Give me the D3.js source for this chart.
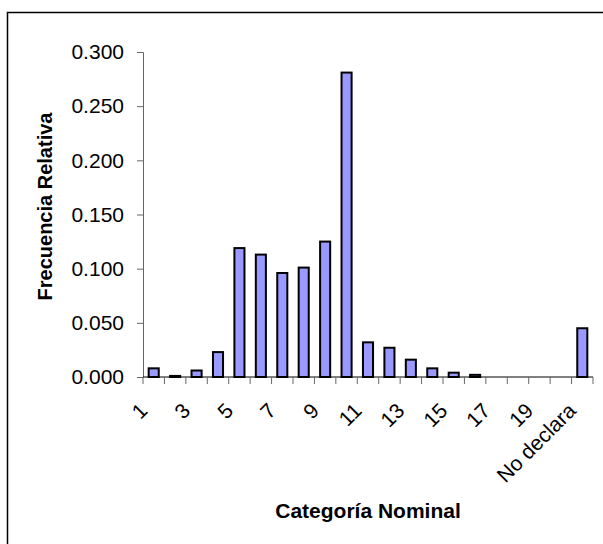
<!DOCTYPE html>
<html><head><meta charset="utf-8">
<script src="https://cdn.jsdelivr.net/npm/d3@7"></script>
<style>body{margin:0;background:#fff;overflow:hidden} text{font-family:"Liberation Sans",Arial,sans-serif;fill:#000}</style>
</head><body><svg id="c" width="603" height="544"></svg>
<script>
const categories = ["1","2","3","4","5","6","7","8","9","10","11","12","13","14","15","16","17","18","19","20","No declara"];
const values = [0.008,0.001,0.006,0.023,0.119,0.113,0.096,0.101,0.125,0.281,0.032,0.027,0.016,0.008,0.004,0.002,0,0,0,0,0.045];
const yTicks = [0,0.05,0.1,0.15,0.2,0.25,0.3];
const xLabelCats = categories.filter((d,i)=>i%2===0);
const xTitle = "Categoría Nominal";
const yTitle = "Frecuencia Relativa";

const svg = d3.select("#c");
const W = 603, H = 544;
const m = {left:143, right:593, top:52, bottom:377};

svg.append("rect").attr("x",7.5).attr("y",12.5).attr("width",W+20).attr("height",H+20)
  .attr("fill","#fff").attr("stroke","#000").attr("stroke-width",1.5);

const x = d3.scaleBand().domain(categories).range([m.left,m.right]).padding(0);
const y = d3.scaleLinear().domain([0,0.3]).range([m.bottom,m.top]);
const bw = x.bandwidth();

// y axis
const yAxis = d3.axisLeft(y).tickValues(yTicks).tickFormat(d3.format(".3f")).tickSize(6).tickPadding(13);
const gy = svg.append("g").attr("transform",`translate(${m.left},0)`).call(yAxis);
gy.select(".domain").attr("stroke","#666");
gy.selectAll(".tick line").attr("stroke","#666");
gy.selectAll(".tick text").attr("font-size",21).attr("font-family","Liberation Sans, Arial, sans-serif");

// bars
svg.append("g").selectAll("rect").data(values).join("rect")
  .attr("x",(d,i)=>x(categories[i]) + bw*0.265)
  .attr("width",bw*0.47)
  .attr("y",d=>y(d))
  .attr("height",d=>y(0)-y(d))
  .attr("fill","#9999ff").attr("stroke","#000").attr("stroke-width",2);

// x axis
const gx = svg.append("g");
gx.append("line").attr("x1",m.left).attr("x2",m.right).attr("y1",y(0)).attr("y2",y(0)).attr("stroke","#000");
const bounds = categories.map(c=>x(c)).concat([m.right]);
gx.selectAll("line.t").data(bounds).join("line").attr("class","t")
  .attr("x1",d=>d).attr("x2",d=>d).attr("y1",y(0)).attr("y2",y(0)+7).attr("stroke","#666");
gx.selectAll("text").data(xLabelCats).join("text")
  .attr("transform",d=>`translate(${x(d)+bw/2-5},${y(0)+35}) rotate(-45)`)
  .attr("text-anchor","end").attr("font-size",21).text(d=>d);

// titles
svg.append("text").attr("x",(m.left+m.right)/2).attr("y",518).attr("text-anchor","middle")
  .attr("font-size",21).attr("font-weight","bold").text(xTitle);
svg.append("text").attr("transform",`translate(52,${(m.top+m.bottom)/2 - 8}) rotate(-90)`)
  .attr("text-anchor","middle").attr("font-size",20).attr("font-weight","bold").text(yTitle);
</script></body></html>
